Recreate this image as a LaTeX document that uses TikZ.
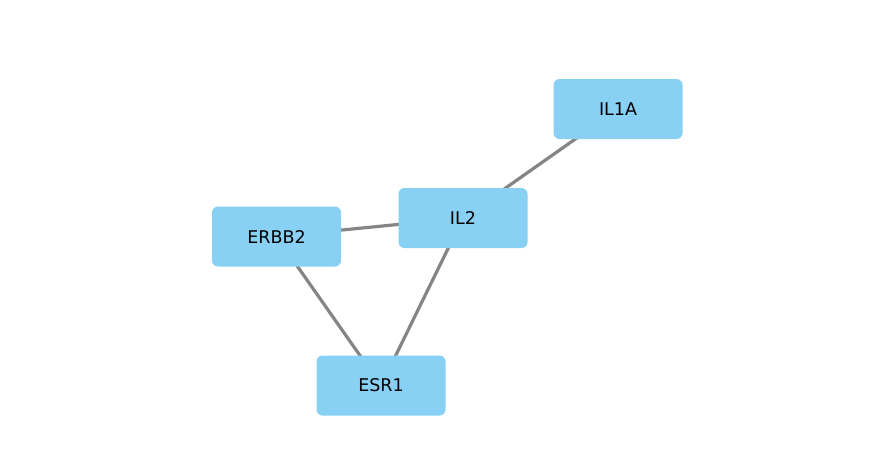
\documentclass[tikz,border=0pt]{standalone}
\usepackage{fontspec}
\setmainfont{DejaVu Sans}
\definecolor{nodefill}{HTML}{89D1F4}
\definecolor{edgegray}{HTML}{858585}
\begin{document}
\begin{tikzpicture}[x=1pt,y=-1pt,
  gene/.style={fill=nodefill, rounded corners=6pt, minimum width=129pt, minimum height=60pt, inner sep=0pt, font=\fontsize{17.5}{20}\selectfont, text=black},
  edge/.style={draw=edgegray, line width=3.2pt}]
\useasboundingbox[fill=white] (0,0) rectangle (869,475);
\draw[edge] (618,109) -- (463,218);
\draw[edge] (463,218) -- (276.5,236.5);
\draw[edge] (463,218) -- (381,385.5);
\draw[edge] (276.5,236.5) -- (381,385.5);
\node[gene] (il1a) at (618,109) {IL1A};
\node[gene] (il2) at (463,218) {IL2};
\node[gene] (erbb2) at (276.5,236.5) {ERBB2};
\node[gene] (esr1) at (381,385.5) {ESR1};
\end{tikzpicture}
\end{document}
